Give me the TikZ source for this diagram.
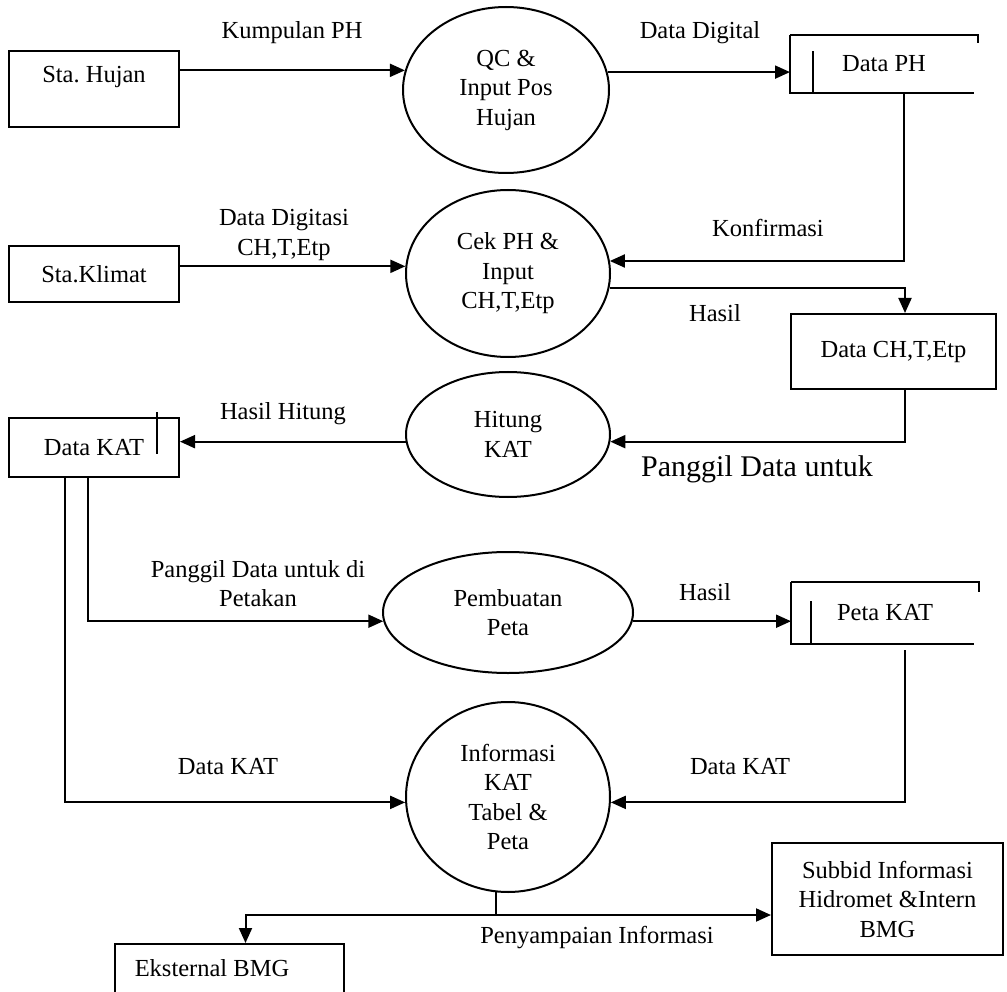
\documentclass[tikz,border=0pt]{standalone}
\usepackage{fontspec}
\setmainfont{Liberation Serif}
\usetikzlibrary{arrows.meta,shapes.geometric}

\begin{document}
\begin{tikzpicture}[x=1pt,y=-1pt,line width=2pt,
	>={Triangle[length=15pt,width=13pt]},
	every node/.style={font=\fontsize{24.5}{29.5}\selectfont},
	proc/.style={draw,ellipse,inner sep=0pt,align=center},
	ent/.style={draw,rectangle,inner sep=0pt,align=center},
	store/.style={rectangle,inner sep=0pt},
	flow/.style={->}]
	% Fix page size
	\useasboundingbox (0,0) rectangle (1007,992);
	% Draw external entities
	\node[ent,minimum width=170pt,minimum height=76pt] (hujan) at (94,89) {};
	\node (hujanlbl) at (94,77) {Sta.\ Hujan};
	\node[ent,minimum width=170pt,minimum height=56pt] (klimat) at (94,274) {Sta.Klimat};
	\node[ent,minimum width=170pt,minimum height=59pt] (dkat) at (94,447.5) {Data KAT};
	\node[ent,minimum width=205pt,minimum height=75pt] (dch) at (893.5,351.5) {Data CH,T,Etp};
	\node[ent,minimum width=231pt,minimum height=112pt] (subbid) at (887.5,899) {Subbid Informasi\\Hidromet \&Intern\\BMG};
	\node[ent,minimum width=229pt,minimum height=80pt,anchor=north] (ekst) at (229.5,943) {};
	\node (ekstlbl) at (212,968) {Eksternal BMG};
	% Draw processes
	\node[proc,minimum width=206pt,minimum height=166pt] (qc) at (506,90) {QC \&\\Input Pos\\Hujan};
	\node[proc,minimum width=204pt,minimum height=167pt] (cek) at (508,273.5) {Cek PH \&\\Input\\CH,T,Etp};
	\node[proc,minimum width=204pt,minimum height=125pt] (hitung) at (508,434.5) {Hitung\\KAT};
	\node[proc,minimum width=250pt,minimum height=121pt] (pemb) at (508,612.5) {Pembuatan\\Peta};
	\node[proc,minimum width=204pt,minimum height=190pt] (info) at (508,797) {Informasi\\KAT\\Tabel \&\\Peta};
	% Draw data stores
	\node[store,minimum width=186pt,minimum height=56pt] (dph) at (884,64) {Data PH};
	\node[store,minimum width=186pt,minimum height=60pt] (peta) at (885,613) {Peta KAT};
	\draw (dph.north west) -- (dph.north east) -- ++(0,8);
	\draw (dph.north west) -- (dph.south west) -- ([xshift=-4pt]dph.south east);
	\draw ([xshift=23pt]dph.south west) -- ++(0,-42);
	\draw (peta.north west) -- (peta.north east) -- ++(0,10);
	\draw (peta.north west) -- (peta.south west) -- ([xshift=-5pt]peta.south east);
	\draw ([xshift=20pt]peta.south west) -- ++(0,-43);
	\draw ([xshift=-23pt,yshift=5pt]dkat.north east) -- ++(0,42);
	% Draw flows
	\draw[flow] (hujan.east |- qc.169) -- (qc.169);
	\draw[flow] (qc.10) -- (qc.10 -| dph.west);
	\draw[flow] (klimat.east |- cek.176) -- (cek.176);
	\draw[flow] ([xshift=20pt]dph.south) |- (cek.7);
	\draw[flow] (cek.-8) -| ([xshift=11.5pt]dch.north);
	\draw[flow] ([xshift=11.5pt]dch.south) |- (hitung.-4);
	\draw[flow] (hitung.184) -- (hitung.184 -| dkat.east);
	\draw[flow] ([xshift=-6pt]dkat.south) |- (pemb.184);
	\draw[flow] ([xshift=-29pt]dkat.south) |- (info.183);
	\draw[flow] (pemb.-4) -- (pemb.-4 -| peta.west);
	\draw[flow] ([xshift=20pt,yshift=-6pt]peta.south) |- (info.-3);
	\coordinate (fork) at ([yshift=-16pt]subbid.west -| info.263);
	\draw[flow] (info.263) |- ([yshift=-16pt]subbid.west);
	\draw[flow] (fork) -| ([xshift=16pt]ekst.north);
	% Flow labels
	\node (l1) at (292,33) {Kumpulan PH};
	\node (l2) at (700,33) {Data Digital};
	\node[align=center] (l3) at (284,235) {Data Digitasi\\CH,T,Etp};
	\node (l4) at (768,228) {Konfirmasi};
	\node (l5) at (715,313) {Hasil};
	\node (l6) at (283,414) {Hasil Hitung};
	\node[font=\fontsize{30}{36}\selectfont] (l7) at (757,469) {Panggil Data untuk};
	\node[align=center] (l8) at (258,583.5) {Panggil Data untuk di\\Petakan};
	\node (l9) at (705,592) {Hasil};
	\node (l10) at (228,767) {Data KAT};
	\node (l11) at (740,767) {Data KAT};
	\node (l12) at (597,938) {Penyampaian Informasi};
\end{tikzpicture}
\end{document}
